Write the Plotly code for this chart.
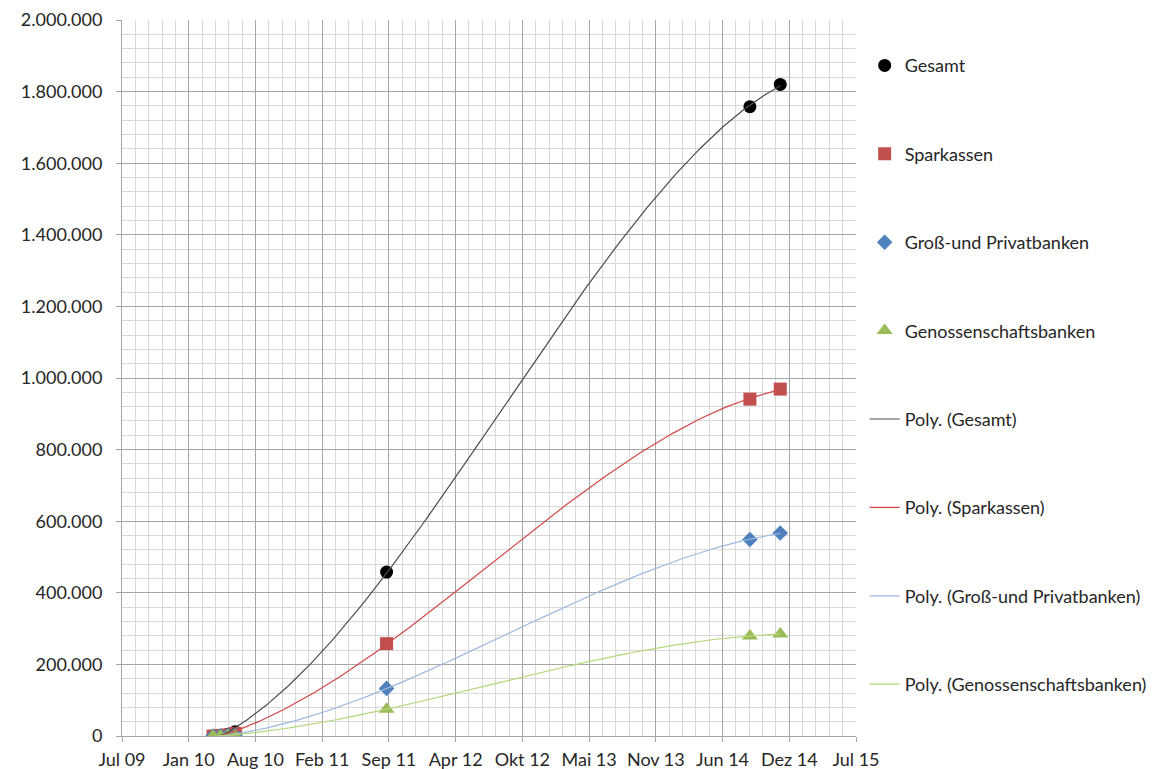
import numpy as np
import pandas as pd
import plotly.graph_objects as go

# ---- data ----
dates = ["2010-04-05", "2010-04-27", "2010-05-19", "2010-06-10",
         "2011-09-07", "2014-08-31", "2014-11-30"]
gesamt = [0, 2000, 5000, 12000, 458000, 1758000, 1820000]
sparkassen = [0, 1200, 3000, 7000, 258000, 941000, 969000]
gross_privat = [0, 400, 1200, 3000, 133000, 549000, 567000]
genossen = [0, 300, 800, 2000, 75000, 279000, 285000]

series_names = ["Gesamt", "Sparkassen", "Groß-und Privatbanken", "Genossenschaftsbanken"]
series_values = [gesamt, sparkassen, gross_privat, genossen]

tick_labels = ["Jul 09", "Jan 10", "Aug 10", "Feb 11", "Sep 11", "Apr 12",
               "Okt 12", "Mai 13", "Nov 13", "Jun 14", "Dez 14", "Jul 15"]

# ---- styles ----
marker_colors = ["#000000", "#C0504D", "#4F81BD", "#9BBB59"]
marker_symbols = ["circle", "square", "diamond", "triangle-up"]
marker_sizes = [13, 13, 12, 14]
line_colors = ["#4d4d4d", "#D0484A", "#9DB9E0", "#B4D77A"]

# Excel serial day numbers
x = ((pd.to_datetime(dates) - pd.Timestamp("1899-12-30")).days).to_numpy().astype(float)
x0 = 40000.0
tickvals = [x0 + 200 * i for i in range(len(tick_labels))]

fig = go.Figure()
for i, (name, vals) in enumerate(zip(series_names, series_values)):
    fig.add_trace(go.Scatter(
        x=x, y=vals, mode="markers", name=name, legendgroup=name,
        marker=dict(color=marker_colors[i], symbol=marker_symbols[i], size=marker_sizes[i],
                    line=dict(width=0)),
    ))

# polynomial trendlines (order 3, least squares, like Excel)
xs = np.linspace(x.min(), x.max(), 300)
for i, (name, vals) in enumerate(zip(series_names, series_values)):
    t = (x - x0) / 1000.0
    coef = np.polyfit(t, np.array(vals, dtype=float), 3)
    ys = np.polyval(coef, (xs - x0) / 1000.0)
    fig.add_trace(go.Scatter(
        x=xs, y=ys, mode="lines", name=f"Poly. ({name})", legendgroup=f"Poly. ({name})",
        line=dict(color=line_colors[i], width=1.2),
    ))

font_family = "Lato, 'Liberation Sans', sans-serif"
fig.update_layout(
    width=1159, height=769,
    margin=dict(l=122, r=303, t=20, b=33, autoexpand=False),
    paper_bgcolor="white", plot_bgcolor="white",
    separators=",.",
    font=dict(family=font_family, size=18, color="#262626"),
    showlegend=True,
    legend=dict(x=1.0118, y=0.962, xanchor="left", yanchor="top",
                tracegroupgap=62, font=dict(size=18),
                bgcolor="rgba(0,0,0,0)"),
    xaxis=dict(
        range=[x0, x0 + 2200], tickvals=tickvals, ticktext=tick_labels,
        showgrid=True, gridcolor="#a6a6a6", gridwidth=1,
        ticks="outside", ticklen=5, tickcolor="#a6a6a6",
        minor=dict(dtick=40, tick0=x0, showgrid=True, gridcolor="#d9d9d9", gridwidth=1),
        zeroline=False, showline=True, linecolor="#a6a6a6", mirror=False,
        tickfont=dict(size=18), automargin=False, ticklabelstandoff=2,
    ),
    yaxis=dict(
        range=[0, 2000000], dtick=200000, tickformat=",d",
        showgrid=True, gridcolor="#a6a6a6", gridwidth=1,
        ticks="outside", ticklen=5, tickcolor="#a6a6a6",
        minor=dict(dtick=40000, showgrid=True, gridcolor="#d9d9d9", gridwidth=1),
        zeroline=False, showline=True, linecolor="#a6a6a6",
        ticklabelstandoff=10, automargin=False,
        tickfont=dict(size=18),
    ),
)

fig.write_html("out.html")
